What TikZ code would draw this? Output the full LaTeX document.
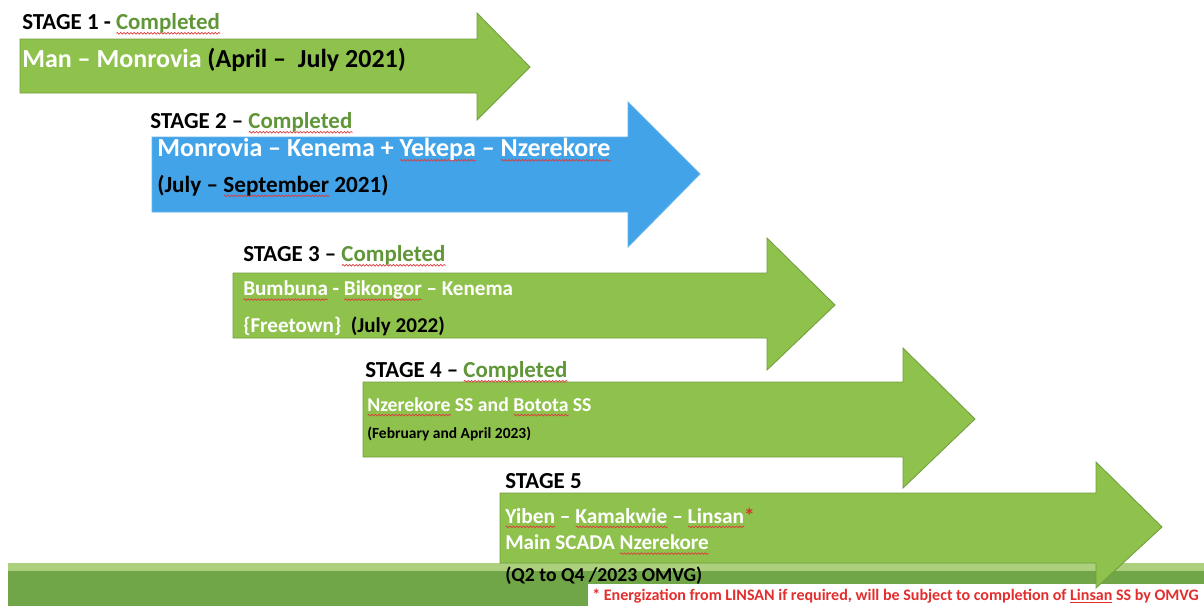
\documentclass[tikz,border=0pt]{standalone}
\usepackage{fontspec}
\setmainfont{Carlito}
\usetikzlibrary{decorations.pathmorphing}

\definecolor{leafgreen}{RGB}{143,194,76}
\definecolor{leafedge}{RGB}{112,158,60}
\definecolor{skyblue}{RGB}{66,163,232}
\definecolor{donegreen}{RGB}{96,150,56}
\definecolor{bandgreen}{RGB}{112,165,72}
\definecolor{bandlight}{RGB}{172,208,125}
\definecolor{notered}{RGB}{228,45,45}
\definecolor{spellred}{RGB}{220,60,60}

% red wavy mark under a word
\newsavebox{\spellbox}
\newcommand{\spell}[2][white]{\sbox{\spellbox}{\color{#1}#2}\rlap{\tikz[baseline=0pt]\draw[spellred, line width=0.5pt, decorate, decoration={snake, amplitude=0.6pt, segment length=2.4pt}] (0pt, -2.6pt) -- (\wd\spellbox, -2.6pt);}\usebox{\spellbox}}

\tikzset{
  stagebar/.style={fill=leafgreen, draw=leafedge, line width=0.6pt},
  stagetitle/.style={anchor=west, inner sep=0pt, font=\bfseries\fontsize{16.3}{19}\selectfont},
  route/.style={anchor=west, inner sep=0pt, text=white, font=\bfseries\fontsize{18.5}{21}\selectfont},
  period/.style={anchor=west, inner sep=0pt, font=\bfseries\fontsize{16.5}{19}\selectfont}
}

\begin{document}
\begin{tikzpicture}[x=0.025cm, y=-0.025cm]
  \useasboundingbox (0, 0) rectangle (1204, 606);

  % band along the bottom
  \fill[bandlight] (8, 563) rectangle (1204, 571);
  \fill[bandgreen] (8, 571) rectangle (1204, 606);
  \fill[white] (588, 584) rectangle (1204, 606);

  % the five stage arrows
  \filldraw[stagebar] (20, 39) -- (477, 39) -- (477, 13) -- (530, 67) -- (477, 120) -- (477, 93) -- (20, 93) -- cycle;
  \filldraw[stagebar, fill=skyblue, draw=skyblue!80!white] (152, 137) -- (628, 137) -- (628, 102) -- (700, 174) -- (628, 247) -- (628, 212) -- (152, 212) -- cycle;
  \filldraw[stagebar] (233, 273) -- (767, 273) -- (767, 238) -- (835, 305) -- (767, 370) -- (767, 338) -- (233, 338) -- cycle;
  \filldraw[stagebar] (363, 382) -- (903, 382) -- (903, 348) -- (975, 419) -- (903, 488) -- (903, 457) -- (363, 457) -- cycle;
  \filldraw[stagebar] (500, 493) -- (1096, 493) -- (1096, 462) -- (1162, 527) -- (1096, 588) -- (1096, 563) -- (500, 563) -- cycle;

  % stage 1
  \node (s1) [stagetitle] at (22, 24) {STAGE 1 - \spell[donegreen]{Completed}};
  \node (r1) [route] at (22, 60) {Man – Monrovia \textcolor{black}{(April –\ \ July 2021)}};

  % stage 2
  \node (s2) [stagetitle] at (150, 123) {STAGE 2 – \spell[donegreen]{Completed}};
  \node (r2) [route] at (157, 150) {Monrovia – Kenema + \spell{Yekepa} – \spell{Nzerekore}};
  \node (d2) [period] at (157, 186) {(July – \spell[black]{September} 2021)};

  % stage 3
  \node (s3) [stagetitle] at (243, 256) {STAGE 3 – \spell[donegreen]{Completed}};
  \node (r3) [route, font=\bfseries\fontsize{15}{18}\selectfont] at (243, 291) {\spell{Bumbuna} - \spell{Bikongor} – Kenema};
  \node (d3) [route, font=\bfseries\fontsize{15}{18}\selectfont] at (243, 326) {\{Freetown\}\ \ \textcolor{black}{(July 2022)}};

  % stage 4
  \node (s4) [stagetitle] at (365, 372) {STAGE 4 – \spell[donegreen]{Completed}};
  \node (r4) [route, font=\bfseries\fontsize{14}{17}\selectfont] at (367, 407) {\spell{Nzerekore} SS and \spell{Botota} SS};
  \node (d4) [period, font=\bfseries\fontsize{11}{13}\selectfont] at (367, 434) {(February and April 2023)};

  % stage 5
  \node (s5) [stagetitle] at (505, 481) {STAGE 5};
  \node (r5) [route, font=\bfseries\fontsize{15.2}{18}\selectfont] at (505, 518) {\spell{Yiben} – \spell{Kamakwie} – \spell{Linsan}\textcolor{notered}{*}};
  \node (m5) [route, font=\bfseries\fontsize{15}{18}\selectfont] at (505, 545) {Main SCADA \spell{Nzerekore}};
  \node (d5) [period, font=\bfseries\fontsize{14}{16}\selectfont] at (505, 576) {(Q2 to Q4 /2023 OMVG)};

  % footnote
  \node (note) [anchor=west, inner sep=0pt, text=notered, font=\bfseries\fontsize{11.4}{13}\selectfont] at (592, 596) {* Energization from LINSAN if required, will be Subject to completion of \underline{Linsan} SS by OMVG};
\end{tikzpicture}
\end{document}
